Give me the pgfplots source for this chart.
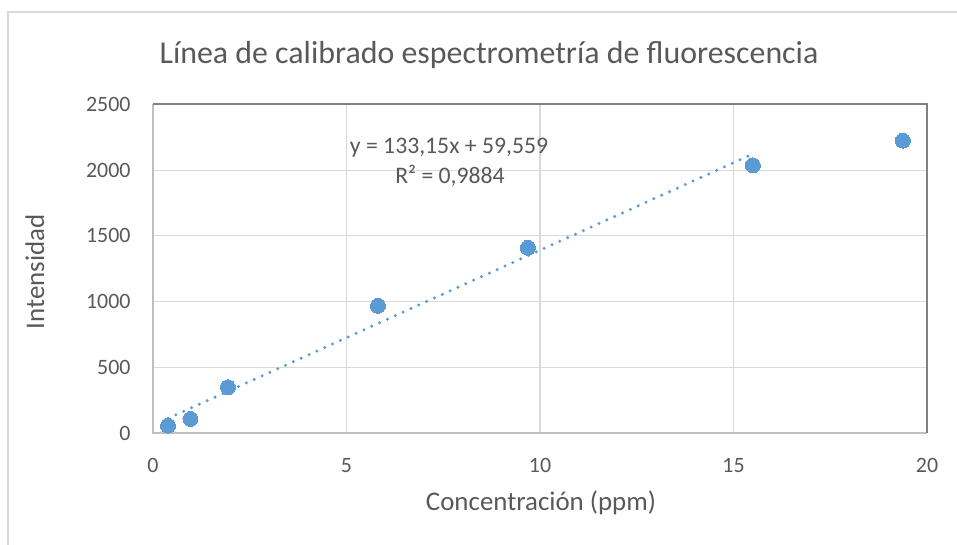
\documentclass[border=0pt]{standalone}
\usepackage{fontspec}
\setmainfont{Carlito}
\usepackage{pgfplots}
\pgfplotsset{compat=1.18}
\definecolor{txt}{HTML}{595959}
\definecolor{grd}{HTML}{D9D9D9}
\definecolor{pt}{HTML}{5B9BD5}
\definecolor{bdark}{HTML}{808080}
\definecolor{blight}{HTML}{BFBFBF}
\begin{document}
\begin{tikzpicture}[x=1bp,y=1bp]
\path[use as bounding box,fill=white] (0,0) rectangle (957,545);
\draw[grd,line width=1.5bp] (8,0) -- (8,533) -- (957,533);
\begin{axis}[
  at={(153bp,112bp)}, anchor=south west,
  scale only axis, width=774bp, height=328.5bp,
  xmin=0, xmax=20, ymin=0, ymax=2500,
  xtick={0,5,10,15,20}, ytick={0,500,1000,1500,2000,2500},
  grid=major, major grid style={grd,line width=1.2bp},
  axis line style={draw=none},
  tick style={draw=none},
  ticklabel style={font=\fontsize{22}{24}\selectfont, text=txt},
  xticklabel style={yshift=-22bp},
  yticklabel style={xshift=-19bp},
  /pgf/number format/assume math mode=true,
  /pgf/number format/1000 sep={},
  clip=false,
]
\addplot[pt, line width=3.3bp, line cap=round, dash pattern=on 0pt off 8.6bp]
  coordinates {(0.3875,111.15) (15.5,2123.4)};
\addplot[only marks, mark=*, mark size=7.5bp, mark options={fill=pt, draw=pt, line width=0pt}]
  coordinates {
  (0.3875,56) (0.96875,107) (1.9375,348) (5.8125,968) (9.6875,1410) (15.5,2037) (19.375,2225)
  };
\draw[blight,line width=2bp] (rel axis cs:0,1) -- (rel axis cs:0,0) -- (rel axis cs:1,0);
\draw[bdark,line width=2bp] (rel axis cs:0,1) -- (rel axis cs:1,1) -- (rel axis cs:1,0);
\end{axis}
\node[text=txt, font=\fontsize{32}{36}\selectfont] at (489,490) {Línea de calibrado espectrometría de fluorescencia};
\node[text=txt, font=\fontsize{27}{30}\selectfont] at (541,42) {Concentración (ppm)};
\node[text=txt, font=\fontsize{27}{30}\selectfont, rotate=90] at (35,273) {Intensidad};
\node[text=txt, font=\fontsize{23.8}{26}\selectfont] at (449,397) {y = 133,15x + 59,559};
\node[text=txt, font=\fontsize{23.8}{26}\selectfont] at (450,369) {R² = 0,9884};
\end{tikzpicture}
\end{document}
